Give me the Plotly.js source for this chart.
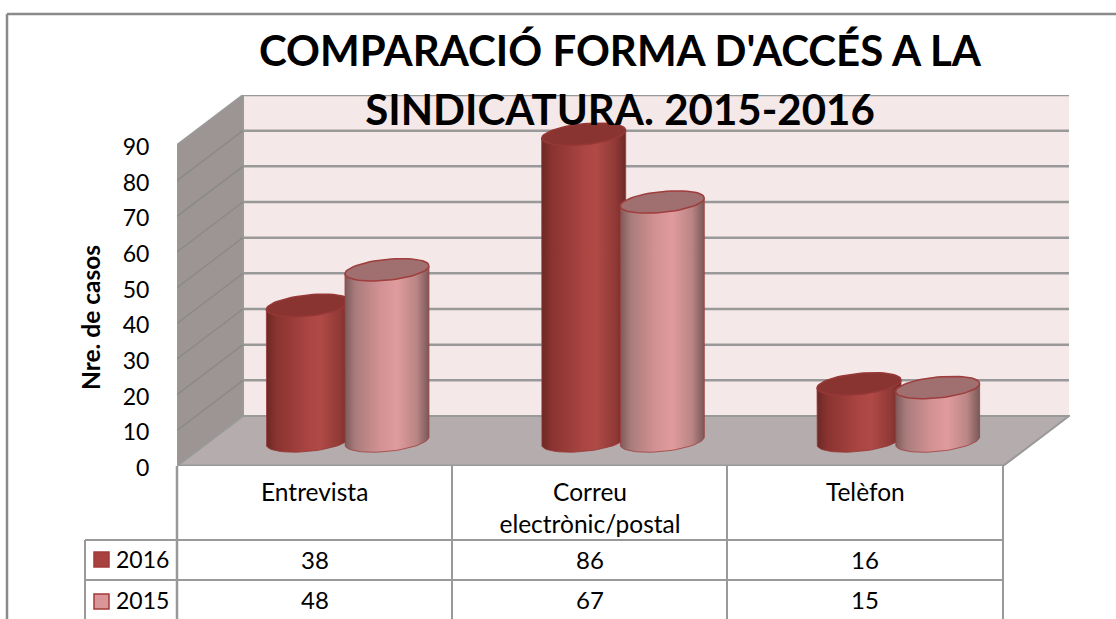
<!DOCTYPE html>
<html><head><meta charset="utf-8">
<script src="https://cdn.plot.ly/plotly-3.0.1.min.js"></script>
<style>html,body{margin:0;padding:0;background:#fff}#c{width:1116px;height:619px}</style>
</head><body><div id="c"></div>
<script>
const categories = ['Entrevista', 'Correu electrònic/postal', 'Telèfon'];
const tickLabels = ['Entrevista', 'Correu<br>electrònic/postal', 'Telèfon'];
const values2016 = [38, 86, 16];
const values2015 = [48, 67, 15];
const yTicks = [0,10,20,30,40,50,60,70,80,90];

const W=1116,H=619,L=177,R=1070,T=95,B=466;
const pxX=275.33, pxY=3.567;
const xMin=-0.5, xMax=xMin+(R-L)/pxX, yMax=(B-T)/pxY;
const depthX=66/pxX, depthY=50/pxY;
const xEnd=2.5;
const pxP=p=>(p-L)/(R-L), px2yP=p=>1-(p-T)/(B-T);
const FONT='Lato, Carlito, sans-serif';

const shiftX=depthX/2, baseY=depthY/2;
const offX=39.3/pxX, halfW=42/pxX, radY=10.5/pxY, tilt=4/pxY;
function rim(cx,cy,a0,a1,n){const xs=[],ys=[];for(let i=0;i<=n;i++){const t=a0+(a1-a0)*i/n;
  xs.push(cx+halfW*Math.cos(t));ys.push(cy+tilt*Math.cos(t)+radY*Math.sin(t));}return{xs,ys};}

const series=[
 {name:'2016',vals:values2016,off:-offX,base:'#a8423f',line:'#963836',top:'#8a3431',
  grad:[[0,'#6b2826'],[0.12,'#8a3330'],[0.5,'#aa4542'],[0.65,'#b04a46'],[0.88,'#8f3936'],[1,'#6d2a28']]},
 {name:'2015',vals:values2015,off:offX,base:'#d99597',line:'#9e3d3c',top:'#a06f6f',
  grad:[[0,'#7d5a5a'],[0.12,'#a87b7b'],[0.4,'#d19092'],[0.62,'#e09b9d'],[0.85,'#bb8585'],[1,'#7a5858']]}
];
const traces=[];
series.forEach(s=>{traces.push({type:'bar',name:s.name,x:categories.map((c,i)=>i+shiftX+s.off),y:s.vals,base:s.vals.map(()=>baseY),
  width:0.28,marker:{color:s.base,line:{width:0}},showlegend:false,hoverinfo:'skip'});});
categories.forEach((c,i)=>{series.forEach(s=>{
  const cx=i+shiftX+s.off, v=s.vals[i], cyB=baseY, cyT=baseY+v;
  const low=rim(cx,cyB,Math.PI,2*Math.PI,30);
  traces.push({type:'scatter',mode:'lines',x:[cx-halfW,...low.xs,cx+halfW,cx-halfW],
    y:[cyT+tilt*(-1),...low.ys,cyT+tilt,cyT-tilt],fill:'toself',
    fillgradient:{type:'horizontal',colorscale:s.grad},line:{color:s.line,width:0.8},showlegend:false,hoverinfo:'skip'});
  const e=rim(cx,cyT,0,2*Math.PI,60);
  traces.push({type:'scatter',mode:'lines',x:e.xs,y:e.ys,fill:'toself',fillcolor:s.top,line:{color:s.line,width:1.5},showlegend:false,hoverinfo:'skip'});
});});

const GR='#999999';
const shapes=[];
const poly=(pts,fill,lw)=>({type:'path',xref:'x',yref:'y',layer:'below',
   path:'M'+pts.map(p=>p[0]+','+p[1]).join('L')+'Z',fillcolor:fill,line:{color:GR,width:lw===undefined?2:lw}});
const line=(x0,y0,x1,y1,w,c)=>({type:'line',xref:'x',yref:'y',layer:'below',x0,y0,x1,y1,line:{color:c||GR,width:w||2.5}});
const pline=(x0,y0,x1,y1,w,c)=>({type:'line',xref:'paper',yref:'paper',layer:'above',
   x0:pxP(x0),x1:pxP(x1),y0:px2yP(y0),y1:px2yP(y1),line:{color:c||GR,width:w||2}});
shapes.push(poly([[xMin+depthX,depthY],[xEnd+depthX,depthY],[xEnd+depthX,yMax],[xMin+depthX,yMax]],'#f4e8e8',0));
shapes.push(poly([[xMin,0],[xMin+depthX,depthY],[xMin+depthX,yMax],[xMin,90]],'#9c9594',2));
shapes.push(poly([[xMin,0],[xMin+depthX,depthY],[xEnd+depthX,depthY],[xEnd,0]],'#b5adad',2));
yTicks.forEach(t=>{ if(t>0){
  shapes.push(line(xMin+depthX,t+depthY,xEnd+depthX,t+depthY,2.5));
  if(t<90) shapes.push(line(xMin,t,xMin+depthX,t+depthY,1.5,'#8a8a86'));}});
shapes.push(line(xMin,0,xEnd,0,3));
[177,452,727,1003].forEach(x=>shapes.push(pline(x,466,x,640,x===177?2.5:2)));
shapes.push(pline(85,540,1003,540,2));
shapes.push(pline(85,580,1003,580,2));
shapes.push(pline(85,540,85,640,2));
shapes.push(pline(7,14,1120,14,2.5,'#8a8a8a'));
shapes.push(pline(7,14,7,640,2.5,'#8a8a8a'));
const key=(y0,fill)=>({type:'rect',xref:'paper',yref:'paper',layer:'above',x0:pxP(94),x1:pxP(109),y0:px2yP(y0),y1:px2yP(y0+15),
  fillcolor:fill,line:{color:'#a33a38',width:1.5}});
shapes.push(key(552,'#a8423f'),key(594,'#d99597'));

const anns=[];
const cell=(i,yPx,text)=>({xref:'x',yref:'paper',x:i,y:px2yP(yPx),text,showarrow:false,xanchor:'center',yanchor:'middle',
  font:{family:FONT,size:24,color:'#000'}});
categories.forEach((c,i)=>{anns.push(cell(i,559,String(values2016[i])));anns.push(cell(i,599,String(values2015[i])));});
const leg=(yPx,text)=>({xref:'paper',yref:'paper',x:pxP(114),y:px2yP(yPx),text,showarrow:false,xanchor:'left',yanchor:'middle',
  font:{family:FONT,size:23,color:'#000'}});
anns.push(leg(559,series[0].name),leg(600,series[1].name));
anns.push({xref:'paper',yref:'paper',x:pxP(90),y:px2yP(318),text:'<b>Nre. de casos</b>',textangle:-90,showarrow:false,
  xanchor:'center',yanchor:'middle',font:{family:FONT,size:24.5,color:'#000'}});

Plotly.newPlot('c',traces,{
 width:W,height:H,margin:{l:L,r:W-R,t:T,b:H-B,pad:0},paper_bgcolor:'#fff',plot_bgcolor:'rgba(0,0,0,0)',
 barmode:'overlay',showlegend:false,
 font:{family:FONT,color:'#000'},
 title:{text:"<b><span style=\"font-size:42px\">COMPARACIÓ FORMA D'ACCÉS A LA</span><br><span style=\"font-size:42px\">SINDICATURA. 2015-2016</span></b>",
   x:620/W,xanchor:'center',y:1-65.5/H,yanchor:'top',font:{family:FONT,size:46,color:'#000'}},
 xaxis:{range:[xMin,xMax],tickmode:'array',tickvals:[0,1,2],ticktext:tickLabels,ticks:'outside',ticklen:5,tickcolor:'rgba(0,0,0,0)',
   showgrid:false,zeroline:false,showline:false,tickfont:{family:FONT,size:24.5,color:'#000'},fixedrange:true},
 yaxis:{range:[0,yMax],tickmode:'array',tickvals:yTicks,ticks:'outside',ticklen:22,tickcolor:'rgba(0,0,0,0)',ticklabelshift:2,
   showgrid:false,zeroline:false,showline:false,tickfont:{family:FONT,size:23,color:'#000'},fixedrange:true},
 shapes,annotations:anns
},{displayModeBar:false,staticPlot:true});
</script></body></html>
